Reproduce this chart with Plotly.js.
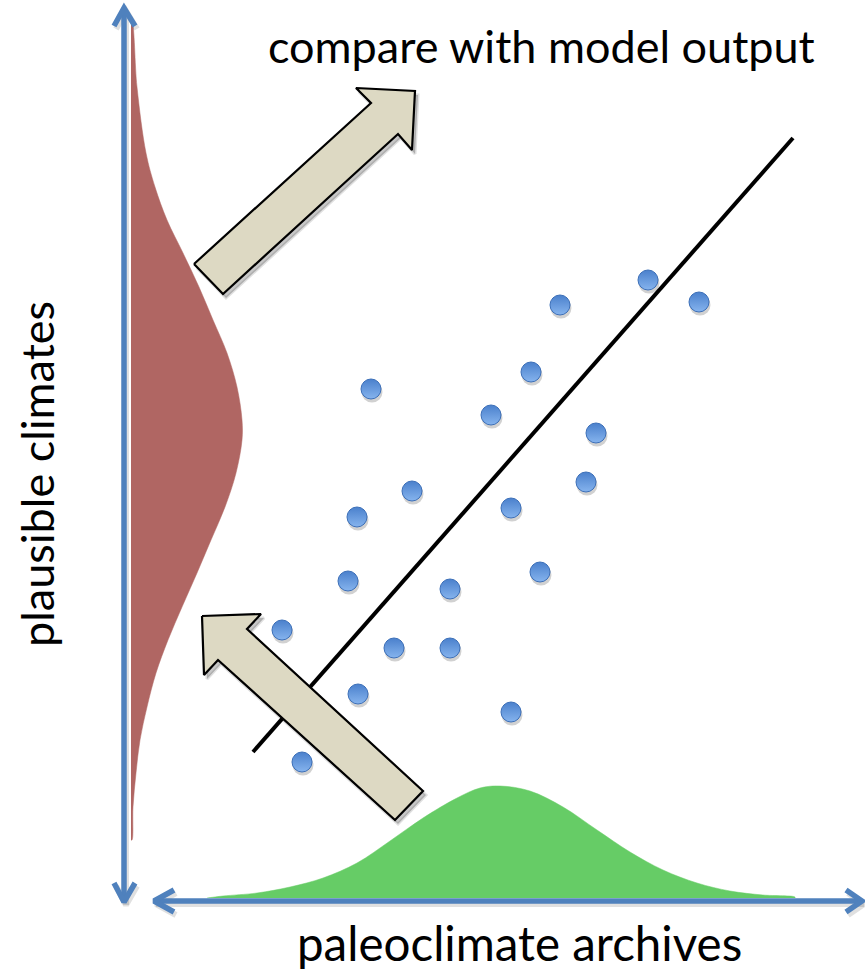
<!DOCTYPE html>
<html>
<head>
<meta charset="utf-8">
<script src="https://cdn.plot.ly/plotly-3.0.1.min.js"></script>
<style>html,body{margin:0;padding:0;background:#fff;}#chart{width:865px;height:970px;}</style>
</head>
<body>
<div id="chart"></div>
<script>
// ---- data (in picture units) ----
// scatter points: paleoclimate archive value vs plausible climate
const dotX = [648, 560, 699, 531, 371, 491, 596, 586, 412, 511, 357, 540, 348, 450, 282, 394, 450, 358, 511, 302];
const dotY = [280, 305, 302, 372, 389, 415, 433, 482, 491, 508, 517, 572, 581, 589, 630, 648, 648, 694, 712, 762];

// regression line end points
const lineX = [253, 793];
const lineY = [752, 138];

// plausible-climate distribution (red), right edge of the curve
const redY = [22, 87, 153, 187, 220, 253, 287, 320, 353, 387, 420, 440, 473, 507, 540, 573, 607, 640, 673, 707, 740, 773, 807, 840];
const redX = [132, 137, 146, 155, 167, 183, 199, 213, 227, 237, 242, 242, 236, 225, 211, 197, 182, 168, 156, 147, 140, 136, 133, 132];
const redBase = 131;

// paleoclimate-archive distribution (green), top edge of the curve
const greenX = [207, 223, 257, 290, 323, 357, 390, 423, 457, 480, 500, 530, 563, 597, 630, 663, 697, 730, 763, 795];
const greenY = [898, 896, 893, 887, 878, 863, 841, 818, 798, 788, 786, 791, 807, 830, 852, 870, 883, 891, 895, 897];
const greenBase = 898;

// axes with double arrow heads
const vAxisX = [124, 124];
const vAxisY = [9, 902];
const hAxisX = [154, 862];
const hAxisY = [901, 901];
const vHeadTopX = [114, 124, 135], vHeadTopY = [26, 8, 26];
const vHeadBotX = [114, 124, 135], vHeadBotY = [883, 902, 883];
const hHeadLeftX = [174, 154, 174], hHeadLeftY = [890, 901, 912];
const hHeadRightX = [846, 862, 846], hHeadRightY = [890, 901, 912];

// big block arrows
const upArrowX = [194, 371, 356, 415, 412, 398, 223, 194];
const upArrowY = [264, 103, 88, 91, 150, 134, 294, 264];
const inArrowX = [202, 261, 247, 423, 395, 218, 204, 202];
const inArrowY = [616, 614, 629, 791, 820, 660, 675, 616];

// texts
const topLabel = 'compare with model output';
const yLabel = 'plausible climates';
const xLabel = 'paleoclimate archives';

// ---- build ----
const axisColor = '#4f81bd';
const shift = (arr, d) => arr.map(v => v + d);

const traces = [];
// red distribution
traces.push({
  x: [redBase].concat(redX, [redBase]),
  y: [redY[0]].concat(redY, [redY[redY.length - 1]]),
  mode: 'lines', fill: 'toself', fillcolor: '#b06663',
  line: {color: '#b06663', width: 0.5, shape: 'spline', smoothing: 1}, hoverinfo: 'skip'
});
// green distribution
traces.push({
  x: [greenX[0]].concat(greenX, [greenX[greenX.length - 1]]),
  y: [greenBase].concat(greenY, [greenBase]),
  mode: 'lines', fill: 'toself', fillcolor: '#66cc66',
  line: {color: '#66cc66', width: 0.5, shape: 'spline', smoothing: 1}, hoverinfo: 'skip'
});
// axes shadows
const axisParts = [[vAxisX, vAxisY], [hAxisX, hAxisY], [vHeadTopX, vHeadTopY], [vHeadBotX, vHeadBotY], [hHeadLeftX, hHeadLeftY], [hHeadRightX, hHeadRightY]];
axisParts.forEach(p => {
  traces.push({x: shift(p[0], 2), y: shift(p[1], 3), mode: 'lines',
    line: {color: 'rgba(0,0,0,0.12)', width: 6}, hoverinfo: 'skip'});
});
// axes
axisParts.forEach(p => {
  traces.push({x: p[0], y: p[1], mode: 'lines',
    line: {color: axisColor, width: 5.5}, hoverinfo: 'skip'});
});
// regression line
traces.push({x: lineX, y: lineY, mode: 'lines', line: {color: '#000', width: 4}, hoverinfo: 'skip'});
// dot shadows
traces.push({x: shift(dotX, 1), y: shift(dotY, 3), mode: 'markers',
  marker: {size: 21, color: 'rgba(0,0,0,0.18)', line: {width: 0}}, hoverinfo: 'skip'});
// dots
traces.push({x: dotX, y: dotY, mode: 'markers',
  marker: {size: 20, color: '#4a80cc', gradient: {type: 'vertical', color: '#86b4ee'},
           line: {color: '#3c6fb8', width: 1}}, hoverinfo: 'skip'});
// block arrows with shadow
[[upArrowX, upArrowY], [inArrowX, inArrowY]].forEach(p => {
  traces.push({x: shift(p[0], 3), y: shift(p[1], 4), mode: 'lines', fill: 'toself',
    fillcolor: 'rgba(0,0,0,0.22)', line: {color: 'rgba(0,0,0,0.12)', width: 3}, hoverinfo: 'skip'});
  traces.push({x: p[0], y: p[1], mode: 'lines', fill: 'toself',
    fillcolor: '#ddd9c3', line: {color: '#000', width: 2.2}, hoverinfo: 'skip'});
});

const font = 'Lato, "Open Sans", "Liberation Sans", sans-serif';
const layout = {
  width: 865, height: 970,
  margin: {l: 0, r: 0, t: 0, b: 0},
  paper_bgcolor: '#fff', plot_bgcolor: '#fff',
  showlegend: false,
  xaxis: {range: [0, 865], visible: false, fixedrange: true},
  yaxis: {range: [970, 0], visible: false, fixedrange: true},
  annotations: [
    {x: 541, y: 46, xref: 'x', yref: 'y', text: topLabel, showarrow: false,
     font: {family: font, size: 45, color: '#000'}},
    {x: 37, y: 474, xref: 'x', yref: 'y', text: yLabel, showarrow: false, textangle: -90,
     font: {family: font, size: 45, color: '#000'}},
    {x: 519, y: 942, xref: 'x', yref: 'y', text: xLabel, showarrow: false,
     font: {family: font, size: 47.5, color: '#000'}}
  ]
};
Plotly.newPlot('chart', traces, layout, {staticPlot: true, displayModeBar: false});
</script>
</body>
</html>
